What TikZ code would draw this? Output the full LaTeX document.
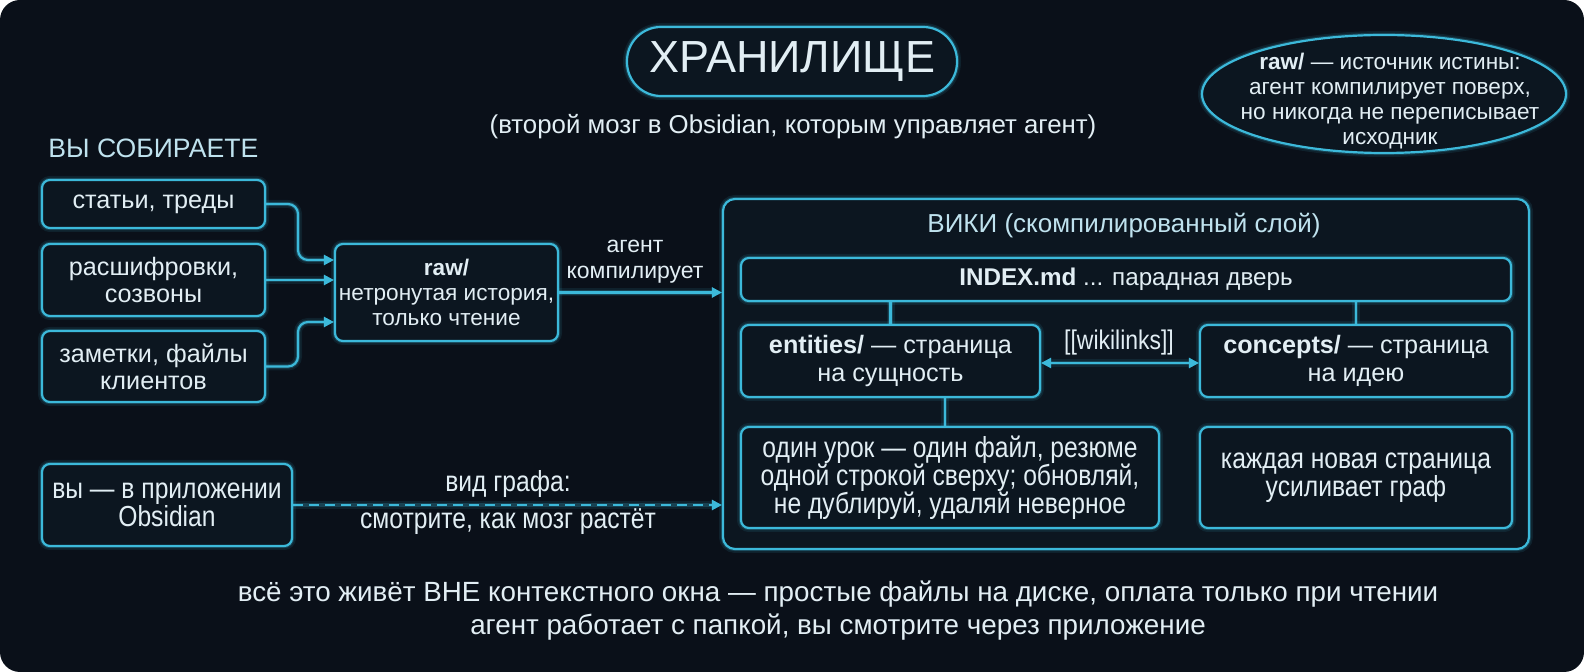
\documentclass[tikz,border=0pt]{standalone}
\usepackage{fontspec}
\setmainfont{Liberation Sans}
\newfontfamily\narrowfont[FakeStretch=0.85]{Liberation Sans}
\usetikzlibrary{arrows.meta}
\definecolor{bgc}{HTML}{0A1019}
\definecolor{linec}{HTML}{3CB9DA}
\definecolor{boxc}{HTML}{0C1620}
\definecolor{txtc}{HTML}{E2EEF4}
\definecolor{headc}{HTML}{BFE2EE}

\begin{document}
\begin{tikzpicture}[x=0.5pt,y=-0.5pt,
  glow/.style={preaction={draw=linec,line width=4pt,opacity=.10},preaction={draw=linec,line width=2.2pt,opacity=.22}},
  box/.style={glow,draw=linec,line width=1.1pt,fill=boxc,rounded corners=4pt,text=txtc,align=center,inner sep=0pt,font=\fontsize{12.6}{13.5}\selectfont},
  flow/.style={glow,draw=linec,line width=1.1pt,-{Triangle[length=5pt,width=5pt]}},
  link/.style={glow,draw=linec,line width=1.1pt},
  lbl/.style={text=txtc,align=center,inner sep=0pt,font=\fontsize{12.6}{13.5}\selectfont},
  narrow/.style={font=\narrowfont\fontsize{14.5}{13.9}\selectfont}]

\useasboundingbox (0,0) rectangle (1584,672);

\fill[white] (0,0) rectangle (1584,672);

\fill[bgc, rounded corners=10pt] (0,0) rectangle (1584,672);

\node[box, minimum width=165pt, minimum height=34.5pt, rounded corners=17pt, font=\fontsize{22.5}{24}\selectfont] (title) at (792,61.5) {ХРАНИЛИЩЕ};

\node[lbl, font=\fontsize{12.9}{14}\selectfont] (sub) at (793,127) {(второй мозг в Obsidian, которым управляет агент)};

\draw[glow, draw=linec, line width=1.1pt, fill=boxc] (1384,94) ellipse [x radius=182, y radius=59];

\node[lbl, font=\fontsize{11.3}{12.6}\selectfont] (note) at (1390,101) {\textbf{raw/} — источник истины:\\агент компилирует поверх,\\но никогда не переписывает\\исходник};

\node[lbl, anchor=west, text=headc, font=\fontsize{13.3}{14}\selectfont] (collect) at (48,148) {ВЫ СОБИРАЕТЕ};

\node[box, minimum width=111.5pt, minimum height=24pt] (s1) at (153.5,204) {статьи, треды};

\node[box, minimum width=111.5pt, minimum height=36pt] (s2) at (153.5,280) {расшифровки,\\созвоны};

\node[box, minimum width=111.5pt, minimum height=35.5pt] (s3) at (153.5,366.5) {заметки, файлы\\клиентов};

\node[box, minimum width=111.5pt, minimum height=48.5pt, font=\fontsize{11.3}{12.5}\selectfont] (raw) at (446.5,292.5) {\textbf{raw/}\\нетронутая история,\\только чтение};

\node[lbl, font=\fontsize{11.5}{13}\selectfont] (compile) at (635,262) {агент\\компилирует};

\node[box, minimum width=403pt, minimum height=175pt, rounded corners=6pt] (wiki) at (1126,374) {};

\node[lbl, text=headc, font=\fontsize{13}{14}\selectfont] (wikititle) at (1124,226) {ВИКИ (скомпилированный слой)};

\node[box, minimum width=385pt, minimum height=21.5pt, font=\fontsize{12.1}{13}\selectfont] (index) at (1126,279.5) {\textbf{INDEX.md} ... парадная дверь};

\node[box, minimum width=149.5pt, minimum height=36pt, font=\fontsize{12.6}{14}\selectfont] (ent) at (890.5,361) {\textbf{entities/} — страница\\на сущность};

\node[box, minimum width=156pt, minimum height=36pt, font=\fontsize{12.6}{14}\selectfont] (con) at (1356,361) {\textbf{concepts/} — страница\\на идею};

\node[lbl, font=\narrowfont\fontsize{13.5}{14}\selectfont] (wl) at (1119,343) {[[wikilinks]]};

\node[box, narrow, minimum width=209pt, minimum height=50.5pt] (lesson) at (950,477.5) {один урок — один файл, резюме\\одной строкой сверху; обновляй,\\не дублируй, удаляй неверное};

\node[box, narrow, minimum width=156pt, minimum height=50.5pt] (graph) at (1356,477.5) {каждая новая страница\\усиливает граф};

\node[box, narrow, minimum width=125pt, minimum height=41pt] (obs) at (167,505) {вы — в приложении\\Obsidian};

\node[lbl, narrow] (view) at (508,484) {вид графа:};

\node[lbl, narrow] (grow) at (508,522) {смотрите, как мозг растёт};

\node[lbl, font=\fontsize{13.9}{16.5}\selectfont] (foot) at (838,610.5) {всё это живёт ВНЕ контекстного окна — простые файлы на диске, оплата только при чтении\\агент работает с папкой, вы смотрите через приложение};

\draw[flow, rounded corners=5pt] (s1.east) -| (298,260) -- (raw.west |- 298,260);

\draw[flow] (s2.east) -- (s2.east -| raw.west);

\draw[flow, rounded corners=5pt] (s3.east) -| (298,322) -- (raw.west |- 298,322);

\draw[flow] (raw.east) -- (raw.east -| wiki.west);

\draw[link] (index.south -| ent.north) -- (ent.north);

\draw[link] (index.south -| con.north) -- (con.north);

\draw[flow, {Triangle[length=5pt,width=5pt]}-{Triangle[length=5pt,width=5pt]}] ([yshift=-1pt]ent.east) -- ([yshift=-1pt]ent.east -| con.west);

\draw[link] (ent.south -| 945,0) -- (lesson.north -| 945,0);

\draw[flow, dash pattern=on 5pt off 3pt] (obs.east) -- (obs.east -| wiki.west);

\end{tikzpicture}
\end{document}
